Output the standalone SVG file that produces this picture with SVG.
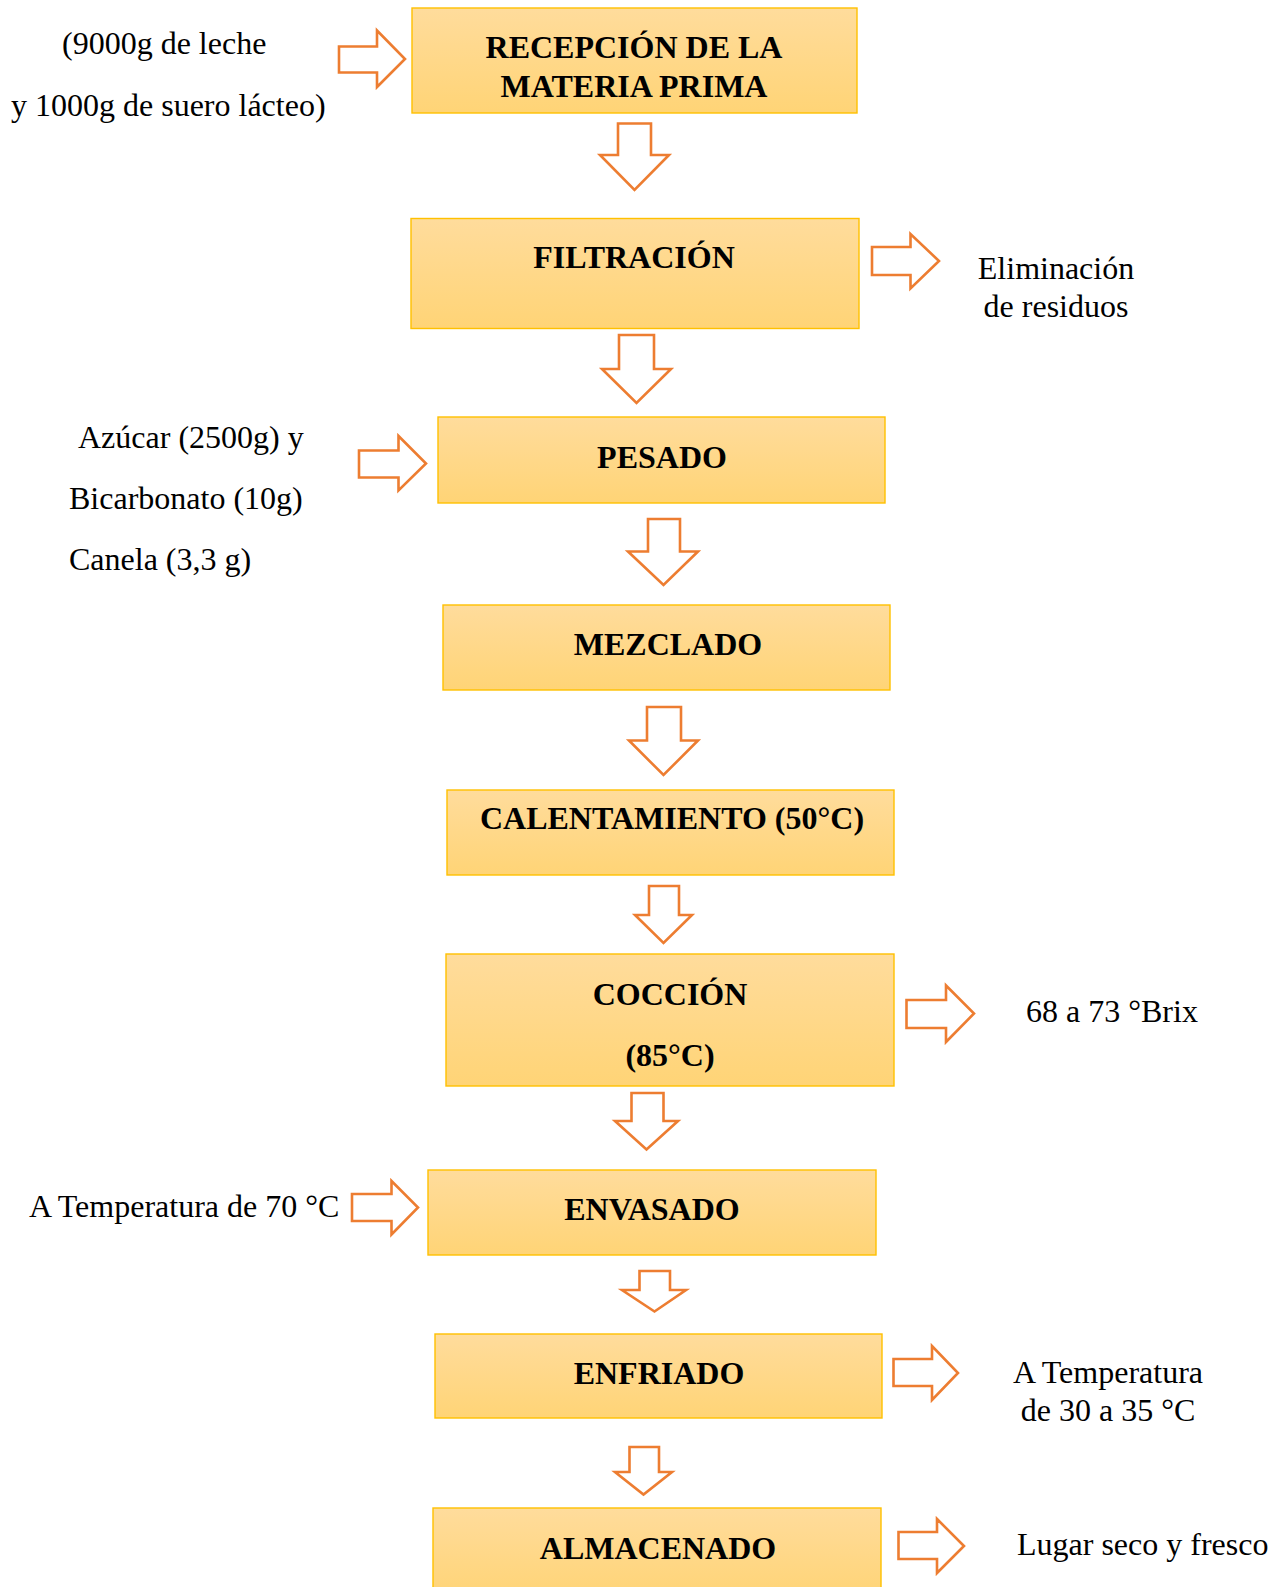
<svg xmlns="http://www.w3.org/2000/svg" width="1288" height="1587" viewBox="0 0 1288 1587">
<defs>
<linearGradient id="g" x1="0" y1="0" x2="0" y2="1">
<stop offset="0" stop-color="#FFDC9C"/>
<stop offset="1" stop-color="#FFD476"/>
</linearGradient>
<style>
.box{fill:url(#g);stroke:#FFC000;stroke-width:1.4}
.t{font-family:"Liberation Serif","Times New Roman",serif;font-size:32px;font-weight:bold;fill:#000;text-anchor:middle}
.l{font-family:"Liberation Serif","Times New Roman",serif;font-size:32px;fill:#000}
.c{text-anchor:middle}
.arr{fill:#fff;stroke:#ED7D31;stroke-width:2.6;stroke-linejoin:miter}
</style>
</defs>
<rect width="1288" height="1587" fill="#fff"/>

<g id="n1"><rect class="box" x="412" y="8" width="445" height="105"/><text class="t" x="634" y="58">RECEPCIÓN DE LA</text><text class="t" x="634" y="97">MATERIA PRIMA</text></g>
<g id="n2"><rect class="box" x="411" y="218.5" width="448" height="110"/><text class="t" x="634" y="268">FILTRACIÓN</text></g>
<g id="n3"><rect class="box" x="438" y="417" width="447" height="86"/><text class="t" x="662" y="468">PESADO</text></g>
<g id="n4"><rect class="box" x="443" y="605" width="447" height="85"/><text class="t" x="668" y="655">MEZCLADO</text></g>
<g id="n5"><rect class="box" x="447" y="790" width="447" height="85"/><text class="t" x="672" y="829">CALENTAMIENTO (50°C)</text></g>
<g id="n6"><rect class="box" x="446" y="954" width="448" height="132"/><text class="t" x="670" y="1005">COCCIÓN</text><text class="t" x="670" y="1066">(85°C)</text></g>
<g id="n7"><rect class="box" x="428" y="1170" width="448" height="85"/><text class="t" x="652" y="1220">ENVASADO</text></g>
<g id="n8"><rect class="box" x="435" y="1334" width="447" height="84"/><text class="t" x="659" y="1384">ENFRIADO</text></g>
<g id="n9"><rect class="box" x="433" y="1508" width="448" height="90"/><text class="t" x="658" y="1559">ALMACENADO</text></g>

<g id="labels">
<text class="l" x="62" y="54">(9000g de leche</text>
<text class="l" x="11" y="116">y 1000g de suero lácteo)</text>
<text class="l c" x="1056" y="279">Eliminación</text>
<text class="l c" x="1056" y="317">de residuos</text>
<text class="l" x="78" y="448">Azúcar (2500g) y</text>
<text class="l" x="69" y="509">Bicarbonato (10g)</text>
<text class="l" x="69" y="570">Canela (3,3 g)</text>
<text class="l" x="1026" y="1022">68 a 73 °Brix</text>
<text class="l" x="29" y="1217">A Temperatura de 70 °C</text>
<text class="l c" x="1108" y="1383">A Temperatura</text>
<text class="l c" x="1108" y="1421">de 30 a 35 °C</text>
<text class="l" x="1017" y="1555">Lugar seco y fresco</text>
</g>

<g id="connectors">
<!-- down arrows -->
<polygon class="arr" points="618,123.5 651,123.5 651,155 669,155 634.5,190 600,155 618,155"/>
<polygon class="arr" points="619,335 654,335 654,369 671,369 636.5,403 602,369 619,369"/>
<polygon class="arr" points="648,519 680,519 680,551.5 698,551.5 663.5,585 628,551.5 648,551.5"/>
<polygon class="arr" points="647,707 681,707 681,740.5 698,740.5 663.5,775 629,740.5 647,740.5"/>
<polygon class="arr" points="649,886 679,886 679,915 692,915 663.5,943 635,915 649,915"/>
<polygon class="arr" points="631.5,1093 663.5,1093 663.5,1121 678,1121 646.5,1149.5 615,1121 631.5,1121"/>
<polygon class="arr" points="639.5,1271 670,1271 670,1290 686,1290 654.5,1311.5 622,1290 639.5,1290"/>
<polygon class="arr" points="629.5,1447 659,1447 659,1472 672,1472 643.5,1494.5 615,1472 629.5,1472"/>
<!-- right arrows -->
<polygon class="arr" points="339,46.5 377,46.5 377,30.5 405,59 377,87 377,72.5 339,72.5"/>
<polygon class="arr" points="872,247 910.5,247 910.5,234 939,261 910.5,288.5 910.5,275 872,275"/>
<polygon class="arr" points="359,450.5 398.5,450.5 398.5,436 426,463.5 398.5,490.5 398.5,477.5 359,477.5"/>
<polygon class="arr" points="906.5,1000 946,1000 946,985.5 974,1013.5 946,1042 946,1028 906.5,1028"/>
<polygon class="arr" points="352,1194 391.5,1194 391.5,1181 418,1207.5 391.5,1234.5 391.5,1221 352,1221"/>
<polygon class="arr" points="893.5,1359 932,1359 932,1346 958,1373 932,1400 932,1386 893.5,1386"/>
<polygon class="arr" points="898.5,1532 937,1532 937,1519 964,1546 937,1573 937,1559 898.5,1559"/>
</g>
</svg>
